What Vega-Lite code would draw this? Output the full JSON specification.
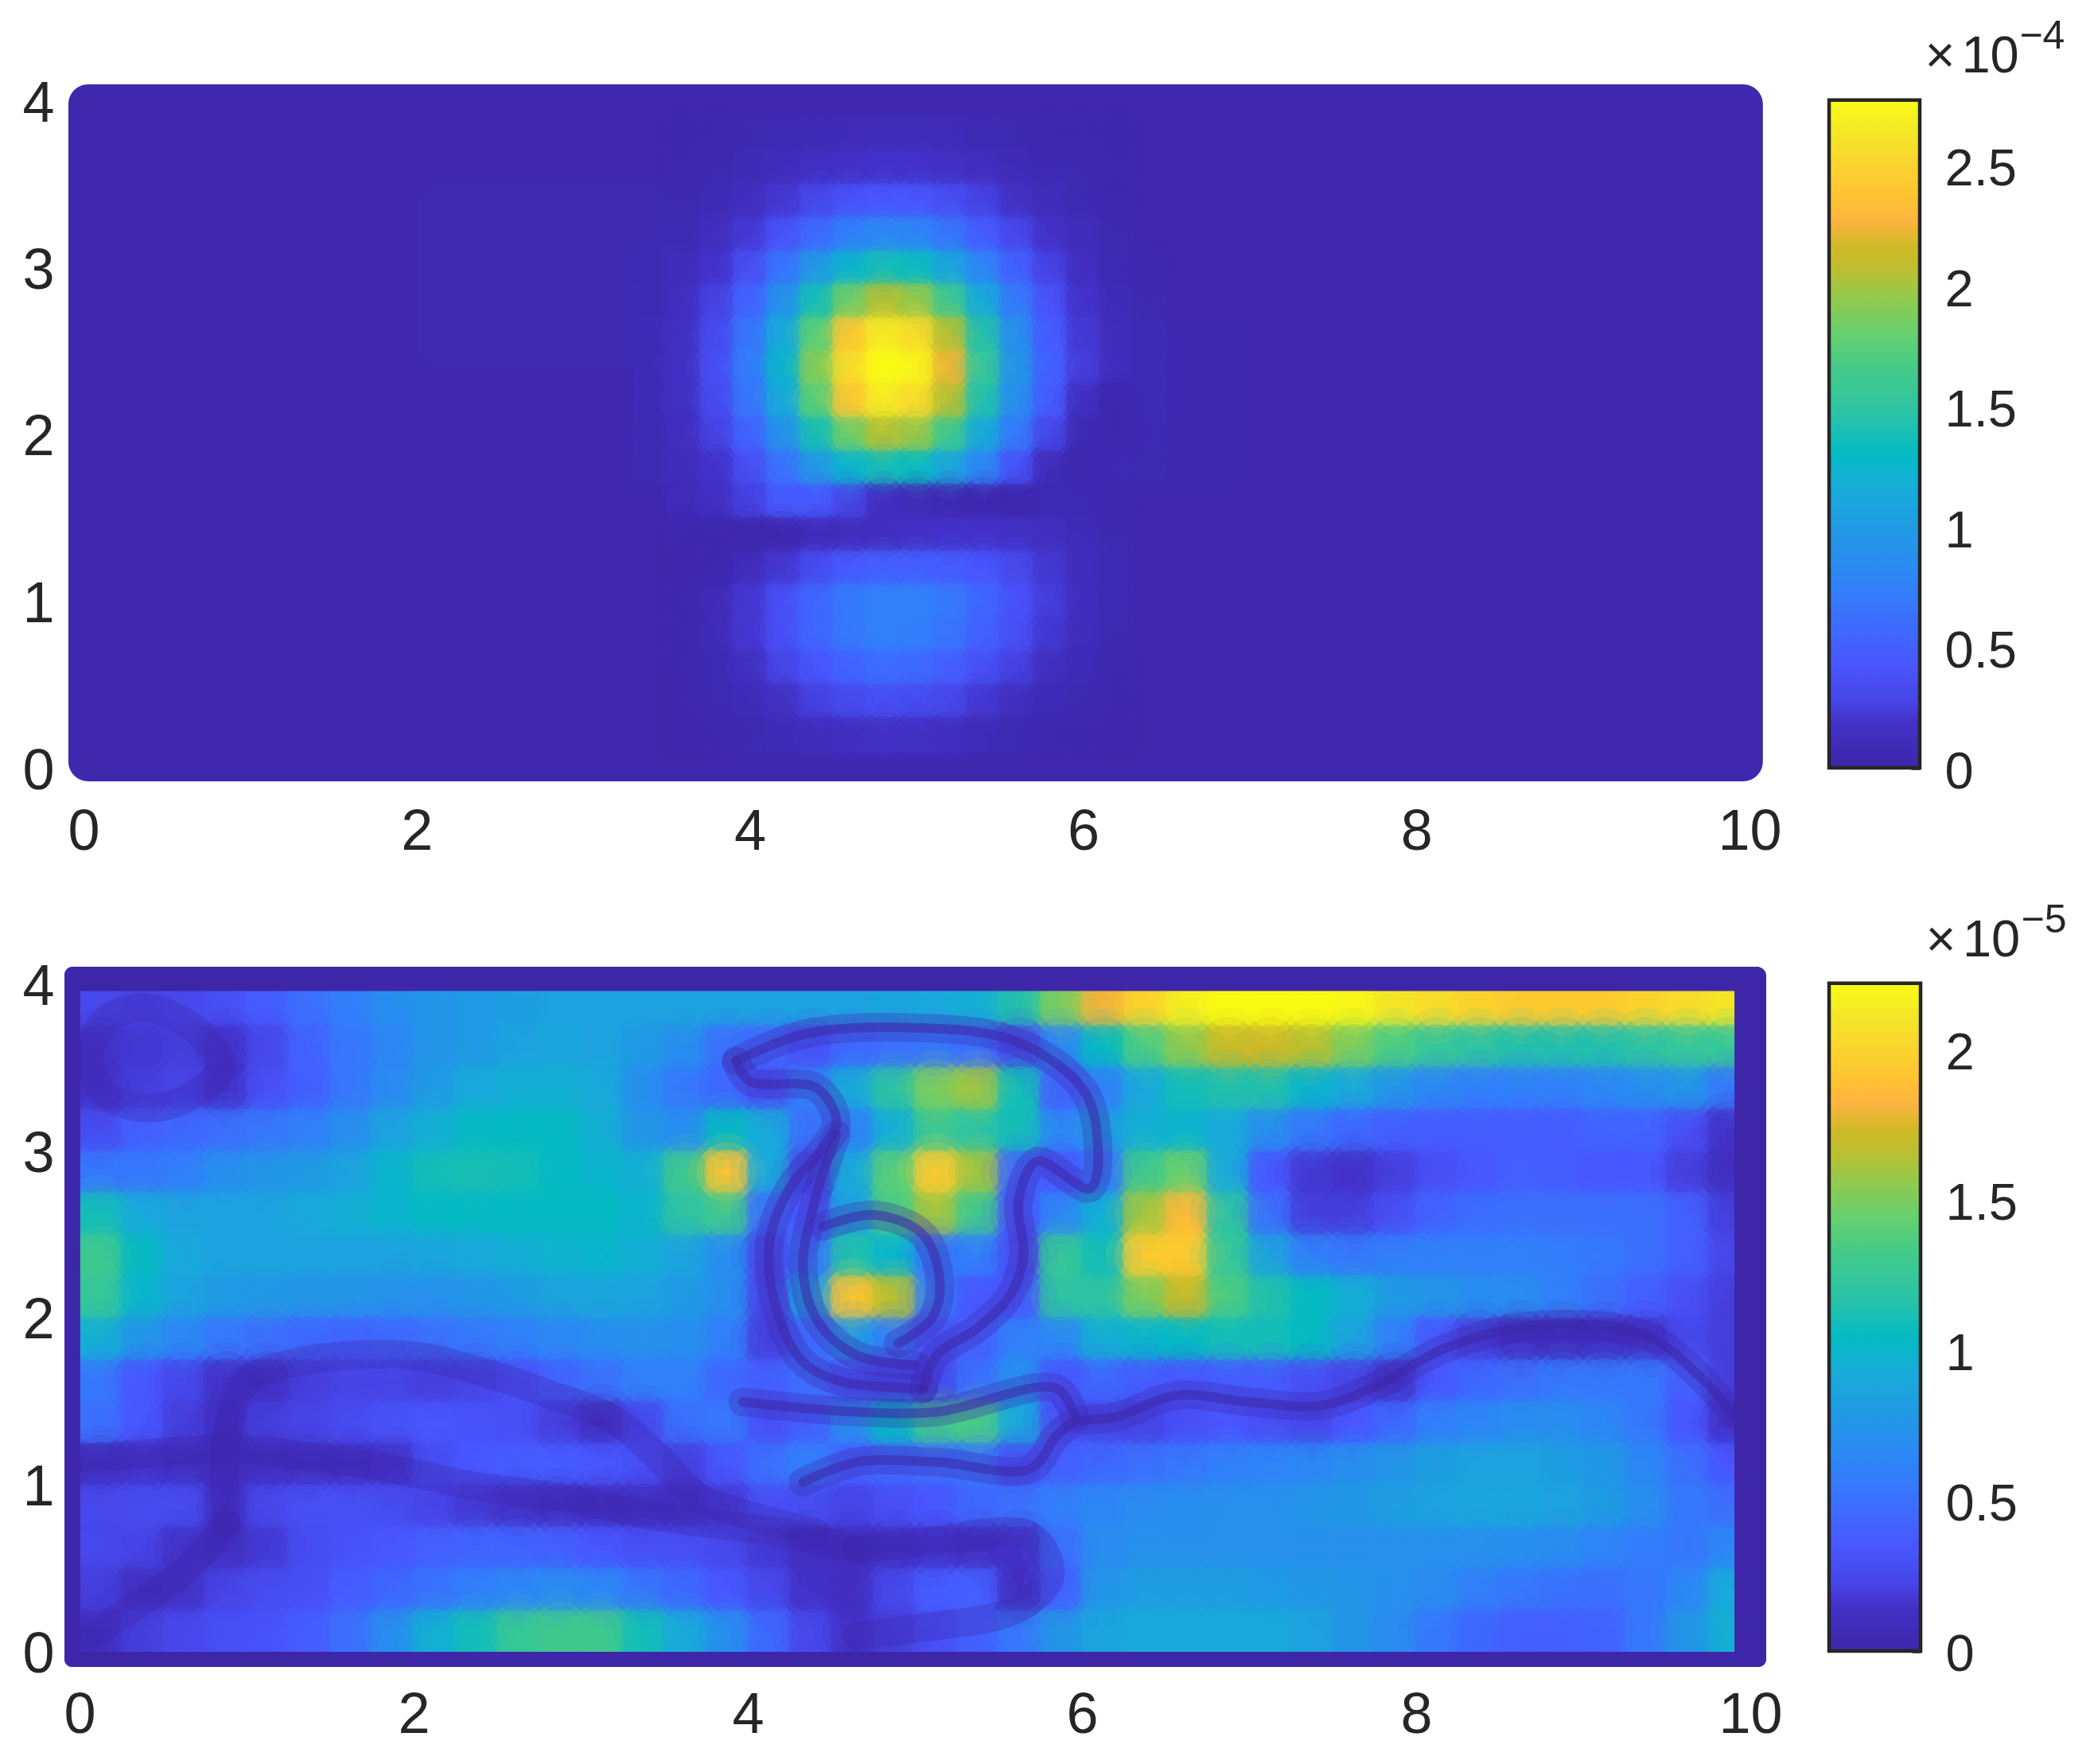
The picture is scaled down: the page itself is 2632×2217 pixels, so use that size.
{"$schema":"https://vega.github.io/schema/vega-lite/v6.json","background":"white","padding":{"left":27,"top":20,"right":0,"bottom":0},"config":{"view":{"stroke":null},"axis":{"labelFont":"Liberation Sans","labelFontSize":72,"labelColor":"#262626","grid":false,"domain":false,"ticks":false,"labelOverlap":false,"labelFlush":false,"labelBound":false}},
"datasets":{
"p1bg":[{"x":-0.091,"x2":10.08,"y":-0.081,"y2":4.1,"v":0.03},{"x":2.0,"x2":3.7,"y":2.4,"y2":3.5,"v":0.06},{"x":6.2,"x2":7.0,"y":1.7,"y2":2.7,"v":0.05}],
"p1":[
{"x":3.6,"y":3.8,"v":0.04},{"x":3.8,"y":3.8,"v":0.05},{"x":4,"y":3.8,"v":0.06},{"x":4.2,"y":3.8,"v":0.07},{"x":4.4,"y":3.8,"v":0.09},{"x":4.6,"y":3.8,"v":0.1},{"x":4.8,"y":3.8,"v":0.11},{"x":5,"y":3.8,"v":0.11},{"x":5.2,"y":3.8,"v":0.1},{"x":5.4,"y":3.8,"v":0.08},{"x":5.6,"y":3.8,"v":0.06},{"x":5.8,"y":3.8,"v":0.05},{"x":6,"y":3.8,"v":0.05},{"x":6.2,"y":3.8,"v":0.04},
{"x":3.6,"y":3.6,"v":0.05},{"x":3.8,"y":3.6,"v":0.06},{"x":4,"y":3.6,"v":0.09},{"x":4.2,"y":3.6,"v":0.12},{"x":4.4,"y":3.6,"v":0.16},{"x":4.6,"y":3.6,"v":0.19},{"x":4.8,"y":3.6,"v":0.2},{"x":5,"y":3.6,"v":0.2},{"x":5.2,"y":3.6,"v":0.17},{"x":5.4,"y":3.6,"v":0.14},{"x":5.6,"y":3.6,"v":0.1},{"x":5.8,"y":3.6,"v":0.07},{"x":6,"y":3.6,"v":0.06},{"x":6.2,"y":3.6,"v":0.05},
{"x":3.6,"y":3.4,"v":0.06},{"x":3.8,"y":3.4,"v":0.09},{"x":4,"y":3.4,"v":0.14},{"x":4.2,"y":3.4,"v":0.22},{"x":4.4,"y":3.4,"v":0.31},{"x":4.6,"y":3.4,"v":0.4},{"x":4.8,"y":3.4,"v":0.44},{"x":5,"y":3.4,"v":0.43},{"x":5.2,"y":3.4,"v":0.36},{"x":5.4,"y":3.4,"v":0.27},{"x":5.6,"y":3.4,"v":0.17},{"x":5.8,"y":3.4,"v":0.11},{"x":6,"y":3.4,"v":0.07},{"x":6.2,"y":3.4,"v":0.05},
{"x":3.6,"y":3.2,"v":0.08},{"x":3.8,"y":3.2,"v":0.14},{"x":4,"y":3.2,"v":0.23},{"x":4.2,"y":3.2,"v":0.4},{"x":4.4,"y":3.2,"v":0.58},{"x":4.6,"y":3.2,"v":0.74},{"x":4.8,"y":3.2,"v":0.82},{"x":5,"y":3.2,"v":0.8},{"x":5.2,"y":3.2,"v":0.67},{"x":5.4,"y":3.2,"v":0.48},{"x":5.6,"y":3.2,"v":0.31},{"x":5.8,"y":3.2,"v":0.18},{"x":6,"y":3.2,"v":0.11},{"x":6.2,"y":3.2,"v":0.06},
{"x":3.4,"y":3,"v":0.07},{"x":3.6,"y":3,"v":0.11},{"x":3.8,"y":3,"v":0.2},{"x":4,"y":3,"v":0.37},{"x":4.2,"y":3,"v":0.65},{"x":4.4,"y":3,"v":0.97},{"x":4.6,"y":3,"v":1.24},{"x":4.8,"y":3,"v":1.38},{"x":5,"y":3,"v":1.33},{"x":5.2,"y":3,"v":1.1},{"x":5.4,"y":3,"v":0.8},{"x":5.6,"y":3,"v":0.5},{"x":5.8,"y":3,"v":0.27},{"x":6,"y":3,"v":0.14},{"x":6.2,"y":3,"v":0.08},{"x":6.4,"y":3,"v":0.05},
{"x":3.4,"y":2.8,"v":0.08},{"x":3.6,"y":2.8,"v":0.14},{"x":3.8,"y":2.8,"v":0.27},{"x":4,"y":2.8,"v":0.54},{"x":4.2,"y":2.8,"v":0.91},{"x":4.4,"y":2.8,"v":1.38},{"x":4.6,"y":2.8,"v":1.83},{"x":4.8,"y":2.8,"v":2.05},{"x":5,"y":2.8,"v":1.97},{"x":5.2,"y":2.8,"v":1.62},{"x":5.4,"y":2.8,"v":1.14},{"x":5.6,"y":2.8,"v":0.71},{"x":5.8,"y":2.8,"v":0.4},{"x":6,"y":2.8,"v":0.2},{"x":6.2,"y":2.8,"v":0.1},{"x":6.4,"y":2.8,"v":0.06},
{"x":3.4,"y":2.6,"v":0.09},{"x":3.6,"y":2.6,"v":0.16},{"x":3.8,"y":2.6,"v":0.34},{"x":4,"y":2.6,"v":0.67},{"x":4.2,"y":2.6,"v":1.14},{"x":4.4,"y":2.6,"v":1.76},{"x":4.6,"y":2.6,"v":2.4},{"x":4.8,"y":2.6,"v":2.65},{"x":5,"y":2.6,"v":2.55},{"x":5.2,"y":2.6,"v":2.05},{"x":5.4,"y":2.6,"v":1.44},{"x":5.6,"y":2.6,"v":0.88},{"x":5.8,"y":2.6,"v":0.48},{"x":6,"y":2.6,"v":0.23},{"x":6.2,"y":2.6,"v":0.12},{"x":6.4,"y":2.6,"v":0.07},
{"x":3.4,"y":2.4,"v":0.09},{"x":3.6,"y":2.4,"v":0.17},{"x":3.8,"y":2.4,"v":0.37},{"x":4,"y":2.4,"v":0.72},{"x":4.2,"y":2.4,"v":1.24},{"x":4.4,"y":2.4,"v":1.9},{"x":4.6,"y":2.4,"v":2.55},{"x":4.8,"y":2.4,"v":2.77},{"x":5,"y":2.4,"v":2.72},{"x":5.2,"y":2.4,"v":2.23},{"x":5.4,"y":2.4,"v":1.56},{"x":5.6,"y":2.4,"v":0.95},{"x":5.8,"y":2.4,"v":0.52},{"x":6,"y":2.4,"v":0.25},{"x":6.2,"y":2.4,"v":0.13},{"x":6.4,"y":2.4,"v":0.08},
{"x":3.4,"y":2.2,"v":0.09},{"x":3.6,"y":2.2,"v":0.16},{"x":3.8,"y":2.2,"v":0.34},{"x":4,"y":2.2,"v":0.67},{"x":4.2,"y":2.2,"v":1.14},{"x":4.4,"y":2.2,"v":1.76},{"x":4.6,"y":2.2,"v":2.4},{"x":4.8,"y":2.2,"v":2.65},{"x":5,"y":2.2,"v":2.55},{"x":5.2,"y":2.2,"v":2.05},{"x":5.4,"y":2.2,"v":1.44},{"x":5.6,"y":2.2,"v":0.88},{"x":5.8,"y":2.2,"v":0.48},{"x":6,"y":2.2,"v":0.15},{"x":6.2,"y":2.2,"v":0.05},{"x":6.4,"y":2.2,"v":0.08},
{"x":3.4,"y":2,"v":0.08},{"x":3.6,"y":2,"v":0.14},{"x":3.8,"y":2,"v":0.27},{"x":4,"y":2,"v":0.54},{"x":4.2,"y":2,"v":0.91},{"x":4.4,"y":2,"v":1.38},{"x":4.6,"y":2,"v":1.83},{"x":4.8,"y":2,"v":2.05},{"x":5,"y":2,"v":1.97},{"x":5.2,"y":2,"v":1.62},{"x":5.4,"y":2,"v":1.14},{"x":5.6,"y":2,"v":0.71},{"x":5.8,"y":2,"v":0.3},{"x":6,"y":2,"v":0.08},{"x":6.2,"y":2,"v":0.05},{"x":6.4,"y":2,"v":0.07},
{"x":3.4,"y":1.8,"v":0.07},{"x":3.6,"y":1.8,"v":0.11},{"x":3.8,"y":1.8,"v":0.2},{"x":4,"y":1.8,"v":0.37},{"x":4.2,"y":1.8,"v":0.65},{"x":4.4,"y":1.8,"v":0.97},{"x":4.6,"y":1.8,"v":1.24},{"x":4.8,"y":1.8,"v":1.38},{"x":5,"y":1.8,"v":1.33},{"x":5.2,"y":1.8,"v":1.1},{"x":5.4,"y":1.8,"v":0.8},{"x":5.6,"y":1.8,"v":0.4},{"x":5.8,"y":1.8,"v":0.1},{"x":6,"y":1.8,"v":0.05},{"x":6.2,"y":1.8,"v":0.08},{"x":6.4,"y":1.8,"v":0.06},
{"x":3.6,"y":1.6,"v":0.1},{"x":3.8,"y":1.6,"v":0.16},{"x":4,"y":1.6,"v":0.26},{"x":4.2,"y":1.6,"v":0.45},{"x":4.4,"y":1.6,"v":0.45},{"x":4.6,"y":1.6,"v":0.3},{"x":4.8,"y":1.6,"v":0.15},{"x":5,"y":1.6,"v":0.1},{"x":5.2,"y":1.6,"v":0.06},{"x":5.4,"y":1.6,"v":0.05},{"x":5.6,"y":1.6,"v":0.03},{"x":5.8,"y":1.6,"v":0.08},{"x":6,"y":1.6,"v":0.08},{"x":6.2,"y":1.6,"v":0.05},
{"x":3.6,"y":1.4,"v":0.05},{"x":3.8,"y":1.4,"v":0.05},{"x":4,"y":1.4,"v":0.03},{"x":4.2,"y":1.4,"v":0.05},{"x":4.4,"y":1.4,"v":0.1},{"x":4.6,"y":1.4,"v":0.12},{"x":4.8,"y":1.4,"v":0.15},{"x":5,"y":1.4,"v":0.18},{"x":5.2,"y":1.4,"v":0.2},{"x":5.4,"y":1.4,"v":0.2},{"x":5.6,"y":1.4,"v":0.18},{"x":5.8,"y":1.4,"v":0.15},{"x":6,"y":1.4,"v":0.1},{"x":6.2,"y":1.4,"v":0.06},
{"x":3.6,"y":1.2,"v":0.03},{"x":3.8,"y":1.2,"v":0.05},{"x":4,"y":1.2,"v":0.12},{"x":4.2,"y":1.2,"v":0.22},{"x":4.4,"y":1.2,"v":0.35},{"x":4.6,"y":1.2,"v":0.45},{"x":4.8,"y":1.2,"v":0.5},{"x":5,"y":1.2,"v":0.5},{"x":5.2,"y":1.2,"v":0.48},{"x":5.4,"y":1.2,"v":0.42},{"x":5.6,"y":1.2,"v":0.32},{"x":5.8,"y":1.2,"v":0.22},{"x":6,"y":1.2,"v":0.12},{"x":6.2,"y":1.2,"v":0.07},
{"x":3.6,"y":1,"v":0.04},{"x":3.8,"y":1,"v":0.1},{"x":4,"y":1,"v":0.22},{"x":4.2,"y":1,"v":0.38},{"x":4.4,"y":1,"v":0.55},{"x":4.6,"y":1,"v":0.7},{"x":4.8,"y":1,"v":0.75},{"x":5,"y":1,"v":0.75},{"x":5.2,"y":1,"v":0.7},{"x":5.4,"y":1,"v":0.55},{"x":5.6,"y":1,"v":0.4},{"x":5.8,"y":1,"v":0.25},{"x":6,"y":1,"v":0.13},{"x":6.2,"y":1,"v":0.07},
{"x":3.6,"y":0.8,"v":0.04},{"x":3.8,"y":0.8,"v":0.1},{"x":4,"y":0.8,"v":0.22},{"x":4.2,"y":0.8,"v":0.38},{"x":4.4,"y":0.8,"v":0.55},{"x":4.6,"y":0.8,"v":0.68},{"x":4.8,"y":0.8,"v":0.75},{"x":5,"y":0.8,"v":0.74},{"x":5.2,"y":0.8,"v":0.66},{"x":5.4,"y":0.8,"v":0.52},{"x":5.6,"y":0.8,"v":0.38},{"x":5.8,"y":0.8,"v":0.22},{"x":6,"y":0.8,"v":0.12},{"x":6.2,"y":0.8,"v":0.06},
{"x":3.6,"y":0.6,"v":0.04},{"x":3.8,"y":0.6,"v":0.08},{"x":4,"y":0.6,"v":0.16},{"x":4.2,"y":0.6,"v":0.28},{"x":4.4,"y":0.6,"v":0.42},{"x":4.6,"y":0.6,"v":0.54},{"x":4.8,"y":0.6,"v":0.6},{"x":5,"y":0.6,"v":0.58},{"x":5.2,"y":0.6,"v":0.5},{"x":5.4,"y":0.6,"v":0.38},{"x":5.6,"y":0.6,"v":0.26},{"x":5.8,"y":0.6,"v":0.15},{"x":6,"y":0.6,"v":0.09},{"x":6.2,"y":0.6,"v":0.05},
{"x":3.6,"y":0.4,"v":0.03},{"x":3.8,"y":0.4,"v":0.06},{"x":4,"y":0.4,"v":0.1},{"x":4.2,"y":0.4,"v":0.17},{"x":4.4,"y":0.4,"v":0.26},{"x":4.6,"y":0.4,"v":0.33},{"x":4.8,"y":0.4,"v":0.36},{"x":5,"y":0.4,"v":0.35},{"x":5.2,"y":0.4,"v":0.3},{"x":5.4,"y":0.4,"v":0.22},{"x":5.6,"y":0.4,"v":0.15},{"x":5.8,"y":0.4,"v":0.09},{"x":6,"y":0.4,"v":0.06},{"x":6.2,"y":0.4,"v":0.04},
{"x":3.6,"y":0.2,"v":0.03},{"x":3.8,"y":0.2,"v":0.04},{"x":4,"y":0.2,"v":0.06},{"x":4.2,"y":0.2,"v":0.09},{"x":4.4,"y":0.2,"v":0.12},{"x":4.6,"y":0.2,"v":0.15},{"x":4.8,"y":0.2,"v":0.17},{"x":5,"y":0.2,"v":0.16},{"x":5.2,"y":0.2,"v":0.14},{"x":5.4,"y":0.2,"v":0.1},{"x":5.6,"y":0.2,"v":0.07},{"x":5.8,"y":0.2,"v":0.05},{"x":6,"y":0.2,"v":0.04},{"x":6.2,"y":0.2,"v":0.03}
],
"p2":[
{"x":0.125,"y":3.875,"v":0.25},{"x":0.375,"y":3.875,"v":0.22},{"x":0.625,"y":3.875,"v":0.25},{"x":0.875,"y":3.875,"v":0.3},{"x":1.125,"y":3.875,"v":0.38},{"x":1.375,"y":3.875,"v":0.5},{"x":1.625,"y":3.875,"v":0.6},{"x":1.875,"y":3.875,"v":0.7},{"x":2.125,"y":3.875,"v":0.75},{"x":2.375,"y":3.875,"v":0.8},{"x":2.625,"y":3.875,"v":0.82},{"x":2.875,"y":3.875,"v":0.85},{"x":3.125,"y":3.875,"v":0.85},{"x":3.375,"y":3.875,"v":0.85},{"x":3.625,"y":3.875,"v":0.85},{"x":3.875,"y":3.875,"v":0.85},{"x":4.125,"y":3.875,"v":0.85},{"x":4.375,"y":3.875,"v":0.85},{"x":4.625,"y":3.875,"v":0.85},{"x":4.875,"y":3.875,"v":0.88},{"x":5.125,"y":3.875,"v":0.9},{"x":5.375,"y":3.875,"v":0.95},{"x":5.625,"y":3.875,"v":1.15},{"x":5.875,"y":3.875,"v":1.5},{"x":6.125,"y":3.875,"v":1.8},{"x":6.375,"y":3.875,"v":2},{"x":6.625,"y":3.875,"v":2.15},{"x":6.875,"y":3.875,"v":2.22},{"x":7.125,"y":3.875,"v":2.22},{"x":7.375,"y":3.875,"v":2.22},{"x":7.625,"y":3.875,"v":2.2},{"x":7.875,"y":3.875,"v":2.1},{"x":8.125,"y":3.875,"v":2.05},{"x":8.375,"y":3.875,"v":2},{"x":8.625,"y":3.875,"v":1.95},{"x":8.875,"y":3.875,"v":1.95},{"x":9.125,"y":3.875,"v":1.95},{"x":9.375,"y":3.875,"v":2},{"x":9.625,"y":3.875,"v":2.05},{"x":9.875,"y":3.875,"v":2.1},
{"x":0.125,"y":3.625,"v":0.15},{"x":0.375,"y":3.625,"v":0.18},{"x":0.625,"y":3.625,"v":0.2},{"x":0.875,"y":3.625,"v":0.15},{"x":1.125,"y":3.625,"v":0.25},{"x":1.375,"y":3.625,"v":0.42},{"x":1.625,"y":3.625,"v":0.55},{"x":1.875,"y":3.625,"v":0.65},{"x":2.125,"y":3.625,"v":0.75},{"x":2.375,"y":3.625,"v":0.8},{"x":2.625,"y":3.625,"v":0.85},{"x":2.875,"y":3.625,"v":0.88},{"x":3.125,"y":3.625,"v":0.85},{"x":3.375,"y":3.625,"v":0.8},{"x":3.625,"y":3.625,"v":0.7},{"x":3.875,"y":3.625,"v":0.5},{"x":4.125,"y":3.625,"v":0.45},{"x":4.375,"y":3.625,"v":0.3},{"x":4.625,"y":3.625,"v":0.45},{"x":4.875,"y":3.625,"v":0.5},{"x":5.125,"y":3.625,"v":0.55},{"x":5.375,"y":3.625,"v":0.5},{"x":5.625,"y":3.625,"v":0.25},{"x":5.875,"y":3.625,"v":0.65},{"x":6.125,"y":3.625,"v":1.05},{"x":6.375,"y":3.625,"v":1.35},{"x":6.625,"y":3.625,"v":1.55},{"x":6.875,"y":3.625,"v":1.7},{"x":7.125,"y":3.625,"v":1.72},{"x":7.375,"y":3.625,"v":1.65},{"x":7.625,"y":3.625,"v":1.5},{"x":7.875,"y":3.625,"v":1.35},{"x":8.125,"y":3.625,"v":1.25},{"x":8.375,"y":3.625,"v":1.2},{"x":8.625,"y":3.625,"v":1.15},{"x":8.875,"y":3.625,"v":1.15},{"x":9.125,"y":3.625,"v":1.15},{"x":9.375,"y":3.625,"v":1.2},{"x":9.625,"y":3.625,"v":1.25},{"x":9.875,"y":3.625,"v":1.25},
{"x":0.125,"y":3.375,"v":0.15},{"x":0.375,"y":3.375,"v":0.2},{"x":0.625,"y":3.375,"v":0.22},{"x":0.875,"y":3.375,"v":0.15},{"x":1.125,"y":3.375,"v":0.3},{"x":1.375,"y":3.375,"v":0.4},{"x":1.625,"y":3.375,"v":0.55},{"x":1.875,"y":3.375,"v":0.68},{"x":2.125,"y":3.375,"v":0.8},{"x":2.375,"y":3.375,"v":0.9},{"x":2.625,"y":3.375,"v":0.95},{"x":2.875,"y":3.375,"v":0.95},{"x":3.125,"y":3.375,"v":0.9},{"x":3.375,"y":3.375,"v":0.7},{"x":3.625,"y":3.375,"v":0.55},{"x":3.875,"y":3.375,"v":0.45},{"x":4.125,"y":3.375,"v":0.3},{"x":4.375,"y":3.375,"v":0.6},{"x":4.625,"y":3.375,"v":0.9},{"x":4.875,"y":3.375,"v":1.2},{"x":5.125,"y":3.375,"v":1.5},{"x":5.375,"y":3.375,"v":1.6},{"x":5.625,"y":3.375,"v":1.1},{"x":5.875,"y":3.375,"v":0.4},{"x":6.125,"y":3.375,"v":0.6},{"x":6.375,"y":3.375,"v":0.9},{"x":6.625,"y":3.375,"v":1.1},{"x":6.875,"y":3.375,"v":1.15},{"x":7.125,"y":3.375,"v":1.15},{"x":7.375,"y":3.375,"v":1},{"x":7.625,"y":3.375,"v":0.9},{"x":7.875,"y":3.375,"v":0.75},{"x":8.125,"y":3.375,"v":0.65},{"x":8.375,"y":3.375,"v":0.6},{"x":8.625,"y":3.375,"v":0.6},{"x":8.875,"y":3.375,"v":0.6},{"x":9.125,"y":3.375,"v":0.65},{"x":9.375,"y":3.375,"v":0.7},{"x":9.625,"y":3.375,"v":0.75},{"x":9.875,"y":3.375,"v":0.55},
{"x":0.125,"y":3.125,"v":0.28},{"x":0.375,"y":3.125,"v":0.4},{"x":0.625,"y":3.125,"v":0.45},{"x":0.875,"y":3.125,"v":0.5},{"x":1.125,"y":3.125,"v":0.55},{"x":1.375,"y":3.125,"v":0.6},{"x":1.625,"y":3.125,"v":0.7},{"x":1.875,"y":3.125,"v":0.85},{"x":2.125,"y":3.125,"v":0.95},{"x":2.375,"y":3.125,"v":1.05},{"x":2.625,"y":3.125,"v":1.05},{"x":2.875,"y":3.125,"v":1.05},{"x":3.125,"y":3.125,"v":0.95},{"x":3.375,"y":3.125,"v":0.75},{"x":3.625,"y":3.125,"v":0.7},{"x":3.875,"y":3.125,"v":1.05},{"x":4.125,"y":3.125,"v":0.9},{"x":4.375,"y":3.125,"v":0.5},{"x":4.625,"y":3.125,"v":0.6},{"x":4.875,"y":3.125,"v":0.95},{"x":5.125,"y":3.125,"v":1.3},{"x":5.375,"y":3.125,"v":1.2},{"x":5.625,"y":3.125,"v":1.1},{"x":5.875,"y":3.125,"v":0.65},{"x":6.125,"y":3.125,"v":0.8},{"x":6.375,"y":3.125,"v":0.95},{"x":6.625,"y":3.125,"v":1},{"x":6.875,"y":3.125,"v":0.9},{"x":7.125,"y":3.125,"v":0.7},{"x":7.375,"y":3.125,"v":0.55},{"x":7.625,"y":3.125,"v":0.45},{"x":7.875,"y":3.125,"v":0.4},{"x":8.125,"y":3.125,"v":0.38},{"x":8.375,"y":3.125,"v":0.38},{"x":8.625,"y":3.125,"v":0.38},{"x":8.875,"y":3.125,"v":0.38},{"x":9.125,"y":3.125,"v":0.42},{"x":9.375,"y":3.125,"v":0.42},{"x":9.625,"y":3.125,"v":0.3},{"x":9.875,"y":3.125,"v":0.15},
{"x":0.125,"y":2.875,"v":0.55},{"x":0.375,"y":2.875,"v":0.55},{"x":0.625,"y":2.875,"v":0.6},{"x":0.875,"y":2.875,"v":0.7},{"x":1.125,"y":2.875,"v":0.75},{"x":1.375,"y":2.875,"v":0.8},{"x":1.625,"y":2.875,"v":0.85},{"x":1.875,"y":2.875,"v":1},{"x":2.125,"y":2.875,"v":1.1},{"x":2.375,"y":2.875,"v":1.12},{"x":2.625,"y":2.875,"v":1.1},{"x":2.875,"y":2.875,"v":1.05},{"x":3.125,"y":2.875,"v":1},{"x":3.375,"y":2.875,"v":0.95},{"x":3.625,"y":2.875,"v":1.3},{"x":3.875,"y":2.875,"v":1.9},{"x":4.125,"y":2.875,"v":0.9},{"x":4.375,"y":2.875,"v":0.25},{"x":4.625,"y":2.875,"v":0.9},{"x":4.875,"y":2.875,"v":1.4},{"x":5.125,"y":2.875,"v":1.95},{"x":5.375,"y":2.875,"v":1.6},{"x":5.625,"y":2.875,"v":0.45},{"x":5.875,"y":2.875,"v":0.35},{"x":6.125,"y":2.875,"v":0.55},{"x":6.375,"y":2.875,"v":1.3},{"x":6.625,"y":2.875,"v":1.45},{"x":6.875,"y":2.875,"v":0.9},{"x":7.125,"y":2.875,"v":0.35},{"x":7.375,"y":2.875,"v":0.18},{"x":7.625,"y":2.875,"v":0.15},{"x":7.875,"y":2.875,"v":0.2},{"x":8.125,"y":2.875,"v":0.3},{"x":8.375,"y":2.875,"v":0.35},{"x":8.625,"y":2.875,"v":0.4},{"x":8.875,"y":2.875,"v":0.38},{"x":9.125,"y":2.875,"v":0.35},{"x":9.375,"y":2.875,"v":0.35},{"x":9.625,"y":2.875,"v":0.2},{"x":9.875,"y":2.875,"v":0.12},
{"x":0.125,"y":2.625,"v":1.1},{"x":0.375,"y":2.625,"v":0.9},{"x":0.625,"y":2.625,"v":0.85},{"x":0.875,"y":2.625,"v":0.85},{"x":1.125,"y":2.625,"v":0.85},{"x":1.375,"y":2.625,"v":0.9},{"x":1.625,"y":2.625,"v":0.95},{"x":1.875,"y":2.625,"v":1},{"x":2.125,"y":2.625,"v":1.05},{"x":2.375,"y":2.625,"v":1.05},{"x":2.625,"y":2.625,"v":1.05},{"x":2.875,"y":2.625,"v":1.05},{"x":3.125,"y":2.625,"v":1.05},{"x":3.375,"y":2.625,"v":1},{"x":3.625,"y":2.625,"v":1.2},{"x":3.875,"y":2.625,"v":1.3},{"x":4.125,"y":2.625,"v":0.5},{"x":4.375,"y":2.625,"v":0.35},{"x":4.625,"y":2.625,"v":0.85},{"x":4.875,"y":2.625,"v":1.35},{"x":5.125,"y":2.625,"v":1.6},{"x":5.375,"y":2.625,"v":1.3},{"x":5.625,"y":2.625,"v":0.35},{"x":5.875,"y":2.625,"v":0.65},{"x":6.125,"y":2.625,"v":0.95},{"x":6.375,"y":2.625,"v":1.6},{"x":6.625,"y":2.625,"v":1.85},{"x":6.875,"y":2.625,"v":1.2},{"x":7.125,"y":2.625,"v":0.5},{"x":7.375,"y":2.625,"v":0.2},{"x":7.625,"y":2.625,"v":0.2},{"x":7.875,"y":2.625,"v":0.3},{"x":8.125,"y":2.625,"v":0.42},{"x":8.375,"y":2.625,"v":0.48},{"x":8.625,"y":2.625,"v":0.5},{"x":8.875,"y":2.625,"v":0.5},{"x":9.125,"y":2.625,"v":0.5},{"x":9.375,"y":2.625,"v":0.5},{"x":9.625,"y":2.625,"v":0.4},{"x":9.875,"y":2.625,"v":0.2},
{"x":0.125,"y":2.375,"v":1.3},{"x":0.375,"y":2.375,"v":1.05},{"x":0.625,"y":2.375,"v":0.9},{"x":0.875,"y":2.375,"v":0.85},{"x":1.125,"y":2.375,"v":0.85},{"x":1.375,"y":2.375,"v":0.85},{"x":1.625,"y":2.375,"v":0.85},{"x":1.875,"y":2.375,"v":0.85},{"x":2.125,"y":2.375,"v":0.88},{"x":2.375,"y":2.375,"v":0.9},{"x":2.625,"y":2.375,"v":0.95},{"x":2.875,"y":2.375,"v":0.98},{"x":3.125,"y":2.375,"v":1},{"x":3.375,"y":2.375,"v":0.95},{"x":3.625,"y":2.375,"v":0.85},{"x":3.875,"y":2.375,"v":0.7},{"x":4.125,"y":2.375,"v":0.25},{"x":4.375,"y":2.375,"v":0.55},{"x":4.625,"y":2.375,"v":1.15},{"x":4.875,"y":2.375,"v":1},{"x":5.125,"y":2.375,"v":0.55},{"x":5.375,"y":2.375,"v":0.6},{"x":5.625,"y":2.375,"v":0.3},{"x":5.875,"y":2.375,"v":1.25},{"x":6.125,"y":2.375,"v":1.1},{"x":6.375,"y":2.375,"v":1.95},{"x":6.625,"y":2.375,"v":1.95},{"x":6.875,"y":2.375,"v":1.25},{"x":7.125,"y":2.375,"v":0.85},{"x":7.375,"y":2.375,"v":0.6},{"x":7.625,"y":2.375,"v":0.55},{"x":7.875,"y":2.375,"v":0.58},{"x":8.125,"y":2.375,"v":0.6},{"x":8.375,"y":2.375,"v":0.6},{"x":8.625,"y":2.375,"v":0.6},{"x":8.875,"y":2.375,"v":0.58},{"x":9.125,"y":2.375,"v":0.55},{"x":9.375,"y":2.375,"v":0.5},{"x":9.625,"y":2.375,"v":0.4},{"x":9.875,"y":2.375,"v":0.25},
{"x":0.125,"y":2.125,"v":1.25},{"x":0.375,"y":2.125,"v":1},{"x":0.625,"y":2.125,"v":0.85},{"x":0.875,"y":2.125,"v":0.8},{"x":1.125,"y":2.125,"v":0.78},{"x":1.375,"y":2.125,"v":0.75},{"x":1.625,"y":2.125,"v":0.75},{"x":1.875,"y":2.125,"v":0.72},{"x":2.125,"y":2.125,"v":0.72},{"x":2.375,"y":2.125,"v":0.75},{"x":2.625,"y":2.125,"v":0.8},{"x":2.875,"y":2.125,"v":0.85},{"x":3.125,"y":2.125,"v":0.88},{"x":3.375,"y":2.125,"v":0.85},{"x":3.625,"y":2.125,"v":0.8},{"x":3.875,"y":2.125,"v":0.7},{"x":4.125,"y":2.125,"v":0.25},{"x":4.375,"y":2.125,"v":0.85},{"x":4.625,"y":2.125,"v":1.9},{"x":4.875,"y":2.125,"v":1.65},{"x":5.125,"y":2.125,"v":0.6},{"x":5.375,"y":2.125,"v":0.35},{"x":5.625,"y":2.125,"v":0.35},{"x":5.875,"y":2.125,"v":1.2},{"x":6.125,"y":2.125,"v":1.2},{"x":6.375,"y":2.125,"v":1.5},{"x":6.625,"y":2.125,"v":1.7},{"x":6.875,"y":2.125,"v":1.35},{"x":7.125,"y":2.125,"v":1.15},{"x":7.375,"y":2.125,"v":1.05},{"x":7.625,"y":2.125,"v":0.95},{"x":7.875,"y":2.125,"v":0.8},{"x":8.125,"y":2.125,"v":0.75},{"x":8.375,"y":2.125,"v":0.7},{"x":8.625,"y":2.125,"v":0.68},{"x":8.875,"y":2.125,"v":0.6},{"x":9.125,"y":2.125,"v":0.5},{"x":9.375,"y":2.125,"v":0.4},{"x":9.625,"y":2.125,"v":0.3},{"x":9.875,"y":2.125,"v":0.2},
{"x":0.125,"y":1.875,"v":0.95},{"x":0.375,"y":1.875,"v":0.75},{"x":0.625,"y":1.875,"v":0.65},{"x":0.875,"y":1.875,"v":0.55},{"x":1.125,"y":1.875,"v":0.5},{"x":1.375,"y":1.875,"v":0.45},{"x":1.625,"y":1.875,"v":0.42},{"x":1.875,"y":1.875,"v":0.45},{"x":2.125,"y":1.875,"v":0.5},{"x":2.375,"y":1.875,"v":0.55},{"x":2.625,"y":1.875,"v":0.6},{"x":2.875,"y":1.875,"v":0.65},{"x":3.125,"y":1.875,"v":0.7},{"x":3.375,"y":1.875,"v":0.72},{"x":3.625,"y":1.875,"v":0.7},{"x":3.875,"y":1.875,"v":0.6},{"x":4.125,"y":1.875,"v":0.2},{"x":4.375,"y":1.875,"v":0.45},{"x":4.625,"y":1.875,"v":0.8},{"x":4.875,"y":1.875,"v":0.6},{"x":5.125,"y":1.875,"v":0.3},{"x":5.375,"y":1.875,"v":0.4},{"x":5.625,"y":1.875,"v":0.6},{"x":5.875,"y":1.875,"v":0.65},{"x":6.125,"y":1.875,"v":0.95},{"x":6.375,"y":1.875,"v":1},{"x":6.625,"y":1.875,"v":1.05},{"x":6.875,"y":1.875,"v":1.1},{"x":7.125,"y":1.875,"v":1.1},{"x":7.375,"y":1.875,"v":1.05},{"x":7.625,"y":1.875,"v":0.85},{"x":7.875,"y":1.875,"v":0.6},{"x":8.125,"y":1.875,"v":0.35},{"x":8.375,"y":1.875,"v":0.2},{"x":8.625,"y":1.875,"v":0.12},{"x":8.875,"y":1.875,"v":0.1},{"x":9.125,"y":1.875,"v":0.12},{"x":9.375,"y":1.875,"v":0.15},{"x":9.625,"y":1.875,"v":0.25},{"x":9.875,"y":1.875,"v":0.2},
{"x":0.125,"y":1.625,"v":0.55},{"x":0.375,"y":1.625,"v":0.35},{"x":0.625,"y":1.625,"v":0.25},{"x":0.875,"y":1.625,"v":0.15},{"x":1.125,"y":1.625,"v":0.12},{"x":1.375,"y":1.625,"v":0.2},{"x":1.625,"y":1.625,"v":0.22},{"x":1.875,"y":1.625,"v":0.22},{"x":2.125,"y":1.625,"v":0.2},{"x":2.375,"y":1.625,"v":0.22},{"x":2.625,"y":1.625,"v":0.3},{"x":2.875,"y":1.625,"v":0.42},{"x":3.125,"y":1.625,"v":0.5},{"x":3.375,"y":1.625,"v":0.6},{"x":3.625,"y":1.625,"v":0.6},{"x":3.875,"y":1.625,"v":0.45},{"x":4.125,"y":1.625,"v":0.4},{"x":4.375,"y":1.625,"v":0.5},{"x":4.625,"y":1.625,"v":0.3},{"x":4.875,"y":1.625,"v":0.25},{"x":5.125,"y":1.625,"v":0.25},{"x":5.375,"y":1.625,"v":0.5},{"x":5.625,"y":1.625,"v":0.7},{"x":5.875,"y":1.625,"v":0.35},{"x":6.125,"y":1.625,"v":0.45},{"x":6.375,"y":1.625,"v":0.38},{"x":6.625,"y":1.625,"v":0.35},{"x":6.875,"y":1.625,"v":0.38},{"x":7.125,"y":1.625,"v":0.38},{"x":7.375,"y":1.625,"v":0.3},{"x":7.625,"y":1.625,"v":0.22},{"x":7.875,"y":1.625,"v":0.15},{"x":8.125,"y":1.625,"v":0.35},{"x":8.375,"y":1.625,"v":0.45},{"x":8.625,"y":1.625,"v":0.5},{"x":8.875,"y":1.625,"v":0.55},{"x":9.125,"y":1.625,"v":0.55},{"x":9.375,"y":1.625,"v":0.55},{"x":9.625,"y":1.625,"v":0.4},{"x":9.875,"y":1.625,"v":0.2},
{"x":0.125,"y":1.375,"v":0.5},{"x":0.375,"y":1.375,"v":0.35},{"x":0.625,"y":1.375,"v":0.2},{"x":0.875,"y":1.375,"v":0.1},{"x":1.125,"y":1.375,"v":0.2},{"x":1.375,"y":1.375,"v":0.22},{"x":1.625,"y":1.375,"v":0.28},{"x":1.875,"y":1.375,"v":0.32},{"x":2.125,"y":1.375,"v":0.35},{"x":2.375,"y":1.375,"v":0.33},{"x":2.625,"y":1.375,"v":0.3},{"x":2.875,"y":1.375,"v":0.2},{"x":3.125,"y":1.375,"v":0.12},{"x":3.375,"y":1.375,"v":0.25},{"x":3.625,"y":1.375,"v":0.5},{"x":3.875,"y":1.375,"v":0.55},{"x":4.125,"y":1.375,"v":0.3},{"x":4.375,"y":1.375,"v":0.4},{"x":4.625,"y":1.375,"v":0.7},{"x":4.875,"y":1.375,"v":1.05},{"x":5.125,"y":1.375,"v":1.3},{"x":5.375,"y":1.375,"v":1.35},{"x":5.625,"y":1.375,"v":0.9},{"x":5.875,"y":1.375,"v":0.3},{"x":6.125,"y":1.375,"v":0.25},{"x":6.375,"y":1.375,"v":0.22},{"x":6.625,"y":1.375,"v":0.3},{"x":6.875,"y":1.375,"v":0.35},{"x":7.125,"y":1.375,"v":0.3},{"x":7.375,"y":1.375,"v":0.25},{"x":7.625,"y":1.375,"v":0.35},{"x":7.875,"y":1.375,"v":0.45},{"x":8.125,"y":1.375,"v":0.6},{"x":8.375,"y":1.375,"v":0.65},{"x":8.625,"y":1.375,"v":0.7},{"x":8.875,"y":1.375,"v":0.7},{"x":9.125,"y":1.375,"v":0.65},{"x":9.375,"y":1.375,"v":0.55},{"x":9.625,"y":1.375,"v":0.35},{"x":9.875,"y":1.375,"v":0.15},
{"x":0.125,"y":1.125,"v":0.12},{"x":0.375,"y":1.125,"v":0.15},{"x":0.625,"y":1.125,"v":0.12},{"x":0.875,"y":1.125,"v":0.1},{"x":1.125,"y":1.125,"v":0.12},{"x":1.375,"y":1.125,"v":0.12},{"x":1.625,"y":1.125,"v":0.12},{"x":1.875,"y":1.125,"v":0.15},{"x":2.125,"y":1.125,"v":0.28},{"x":2.375,"y":1.125,"v":0.35},{"x":2.625,"y":1.125,"v":0.38},{"x":2.875,"y":1.125,"v":0.38},{"x":3.125,"y":1.125,"v":0.35},{"x":3.375,"y":1.125,"v":0.3},{"x":3.625,"y":1.125,"v":0.2},{"x":3.875,"y":1.125,"v":0.35},{"x":4.125,"y":1.125,"v":0.5},{"x":4.375,"y":1.125,"v":0.6},{"x":4.625,"y":1.125,"v":0.4},{"x":4.875,"y":1.125,"v":0.45},{"x":5.125,"y":1.125,"v":0.5},{"x":5.375,"y":1.125,"v":0.55},{"x":5.625,"y":1.125,"v":0.3},{"x":5.875,"y":1.125,"v":0.4},{"x":6.125,"y":1.125,"v":0.45},{"x":6.375,"y":1.125,"v":0.5},{"x":6.625,"y":1.125,"v":0.55},{"x":6.875,"y":1.125,"v":0.6},{"x":7.125,"y":1.125,"v":0.62},{"x":7.375,"y":1.125,"v":0.65},{"x":7.625,"y":1.125,"v":0.7},{"x":7.875,"y":1.125,"v":0.75},{"x":8.125,"y":1.125,"v":0.82},{"x":8.375,"y":1.125,"v":0.85},{"x":8.625,"y":1.125,"v":0.85},{"x":8.875,"y":1.125,"v":0.82},{"x":9.125,"y":1.125,"v":0.78},{"x":9.375,"y":1.125,"v":0.65},{"x":9.625,"y":1.125,"v":0.5},{"x":9.875,"y":1.125,"v":0.35},
{"x":0.125,"y":0.875,"v":0.25},{"x":0.375,"y":0.875,"v":0.28},{"x":0.625,"y":0.875,"v":0.28},{"x":0.875,"y":0.875,"v":0.12},{"x":1.125,"y":0.875,"v":0.25},{"x":1.375,"y":0.875,"v":0.3},{"x":1.625,"y":0.875,"v":0.3},{"x":1.875,"y":0.875,"v":0.28},{"x":2.125,"y":0.875,"v":0.22},{"x":2.375,"y":0.875,"v":0.18},{"x":2.625,"y":0.875,"v":0.15},{"x":2.875,"y":0.875,"v":0.12},{"x":3.125,"y":0.875,"v":0.1},{"x":3.375,"y":0.875,"v":0.12},{"x":3.625,"y":0.875,"v":0.12},{"x":3.875,"y":0.875,"v":0.18},{"x":4.125,"y":0.875,"v":0.3},{"x":4.375,"y":0.875,"v":0.28},{"x":4.625,"y":0.875,"v":0.22},{"x":4.875,"y":0.875,"v":0.3},{"x":5.125,"y":0.875,"v":0.35},{"x":5.375,"y":0.875,"v":0.45},{"x":5.625,"y":0.875,"v":0.5},{"x":5.875,"y":0.875,"v":0.6},{"x":6.125,"y":0.875,"v":0.65},{"x":6.375,"y":0.875,"v":0.68},{"x":6.625,"y":0.875,"v":0.7},{"x":6.875,"y":0.875,"v":0.72},{"x":7.125,"y":0.875,"v":0.72},{"x":7.375,"y":0.875,"v":0.75},{"x":7.625,"y":0.875,"v":0.78},{"x":7.875,"y":0.875,"v":0.82},{"x":8.125,"y":0.875,"v":0.85},{"x":8.375,"y":0.875,"v":0.88},{"x":8.625,"y":0.875,"v":0.88},{"x":8.875,"y":0.875,"v":0.85},{"x":9.125,"y":0.875,"v":0.8},{"x":9.375,"y":0.875,"v":0.7},{"x":9.625,"y":0.875,"v":0.55},{"x":9.875,"y":0.875,"v":0.5},
{"x":0.125,"y":0.625,"v":0.25},{"x":0.375,"y":0.625,"v":0.22},{"x":0.625,"y":0.625,"v":0.15},{"x":0.875,"y":0.625,"v":0.12},{"x":1.125,"y":0.625,"v":0.18},{"x":1.375,"y":0.625,"v":0.28},{"x":1.625,"y":0.625,"v":0.32},{"x":1.875,"y":0.625,"v":0.35},{"x":2.125,"y":0.625,"v":0.4},{"x":2.375,"y":0.625,"v":0.42},{"x":2.625,"y":0.625,"v":0.42},{"x":2.875,"y":0.625,"v":0.4},{"x":3.125,"y":0.625,"v":0.35},{"x":3.375,"y":0.625,"v":0.3},{"x":3.625,"y":0.625,"v":0.3},{"x":3.875,"y":0.625,"v":0.25},{"x":4.125,"y":0.625,"v":0.18},{"x":4.375,"y":0.625,"v":0.12},{"x":4.625,"y":0.625,"v":0.1},{"x":4.875,"y":0.625,"v":0.12},{"x":5.125,"y":0.625,"v":0.15},{"x":5.375,"y":0.625,"v":0.12},{"x":5.625,"y":0.625,"v":0.15},{"x":5.875,"y":0.625,"v":0.5},{"x":6.125,"y":0.625,"v":0.68},{"x":6.375,"y":0.625,"v":0.72},{"x":6.625,"y":0.625,"v":0.72},{"x":6.875,"y":0.625,"v":0.72},{"x":7.125,"y":0.625,"v":0.72},{"x":7.375,"y":0.625,"v":0.72},{"x":7.625,"y":0.625,"v":0.72},{"x":7.875,"y":0.625,"v":0.72},{"x":8.125,"y":0.625,"v":0.72},{"x":8.375,"y":0.625,"v":0.72},{"x":8.625,"y":0.625,"v":0.7},{"x":8.875,"y":0.625,"v":0.68},{"x":9.125,"y":0.625,"v":0.62},{"x":9.375,"y":0.625,"v":0.58},{"x":9.625,"y":0.625,"v":0.55},{"x":9.875,"y":0.625,"v":0.65},
{"x":0.125,"y":0.375,"v":0.2},{"x":0.375,"y":0.375,"v":0.12},{"x":0.625,"y":0.375,"v":0.14},{"x":0.875,"y":0.375,"v":0.22},{"x":1.125,"y":0.375,"v":0.28},{"x":1.375,"y":0.375,"v":0.3},{"x":1.625,"y":0.375,"v":0.38},{"x":1.875,"y":0.375,"v":0.45},{"x":2.125,"y":0.375,"v":0.52},{"x":2.375,"y":0.375,"v":0.6},{"x":2.625,"y":0.375,"v":0.65},{"x":2.875,"y":0.375,"v":0.68},{"x":3.125,"y":0.375,"v":0.65},{"x":3.375,"y":0.375,"v":0.55},{"x":3.625,"y":0.375,"v":0.45},{"x":3.875,"y":0.375,"v":0.35},{"x":4.125,"y":0.375,"v":0.25},{"x":4.375,"y":0.375,"v":0.15},{"x":4.625,"y":0.375,"v":0.12},{"x":4.875,"y":0.375,"v":0.25},{"x":5.125,"y":0.375,"v":0.38},{"x":5.375,"y":0.375,"v":0.4},{"x":5.625,"y":0.375,"v":0.12},{"x":5.875,"y":0.375,"v":0.4},{"x":6.125,"y":0.375,"v":0.75},{"x":6.375,"y":0.375,"v":0.82},{"x":6.625,"y":0.375,"v":0.82},{"x":6.875,"y":0.375,"v":0.82},{"x":7.125,"y":0.375,"v":0.8},{"x":7.375,"y":0.375,"v":0.78},{"x":7.625,"y":0.375,"v":0.75},{"x":7.875,"y":0.375,"v":0.72},{"x":8.125,"y":0.375,"v":0.68},{"x":8.375,"y":0.375,"v":0.6},{"x":8.625,"y":0.375,"v":0.55},{"x":8.875,"y":0.375,"v":0.52},{"x":9.125,"y":0.375,"v":0.5},{"x":9.375,"y":0.375,"v":0.55},{"x":9.625,"y":0.375,"v":0.65},{"x":9.875,"y":0.375,"v":0.9},
{"x":0.125,"y":0.125,"v":0.12},{"x":0.375,"y":0.125,"v":0.2},{"x":0.625,"y":0.125,"v":0.25},{"x":0.875,"y":0.125,"v":0.3},{"x":1.125,"y":0.125,"v":0.32},{"x":1.375,"y":0.125,"v":0.38},{"x":1.625,"y":0.125,"v":0.5},{"x":1.875,"y":0.125,"v":0.7},{"x":2.125,"y":0.125,"v":0.95},{"x":2.375,"y":0.125,"v":1.1},{"x":2.625,"y":0.125,"v":1.25},{"x":2.875,"y":0.125,"v":1.3},{"x":3.125,"y":0.125,"v":1.3},{"x":3.375,"y":0.125,"v":1.1},{"x":3.625,"y":0.125,"v":0.9},{"x":3.875,"y":0.125,"v":0.7},{"x":4.125,"y":0.125,"v":0.45},{"x":4.375,"y":0.125,"v":0.25},{"x":4.625,"y":0.125,"v":0.15},{"x":4.875,"y":0.125,"v":0.2},{"x":5.125,"y":0.125,"v":0.3},{"x":5.375,"y":0.125,"v":0.4},{"x":5.625,"y":0.125,"v":0.55},{"x":5.875,"y":0.125,"v":0.75},{"x":6.125,"y":0.125,"v":0.88},{"x":6.375,"y":0.125,"v":0.9},{"x":6.625,"y":0.125,"v":0.9},{"x":6.875,"y":0.125,"v":0.9},{"x":7.125,"y":0.125,"v":0.9},{"x":7.375,"y":0.125,"v":0.85},{"x":7.625,"y":0.125,"v":0.75},{"x":7.875,"y":0.125,"v":0.68},{"x":8.125,"y":0.125,"v":0.55},{"x":8.375,"y":0.125,"v":0.45},{"x":8.625,"y":0.125,"v":0.4},{"x":8.875,"y":0.125,"v":0.4},{"x":9.125,"y":0.125,"v":0.42},{"x":9.375,"y":0.125,"v":0.55},{"x":9.625,"y":0.125,"v":0.75},{"x":9.875,"y":0.125,"v":0.95}
],
"p2n":[
{"id":"e","o":1,"x":0.05,"y":3.55},{"id":"e","o":2,"x":0.15,"y":3.78},{"id":"e","o":3,"x":0.4,"y":3.86},{"id":"e","o":4,"x":0.7,"y":3.72},{"id":"e","o":5,"x":0.85,"y":3.5},{"id":"e","o":6,"x":0.65,"y":3.32},{"id":"e","o":7,"x":0.4,"y":3.26},{"id":"e","o":8,"x":0.15,"y":3.34},{"id":"e","o":9,"x":0.05,"y":3.55},
{"id":"l1","o":1,"x":0,"y":1.16},{"id":"l1","o":2,"x":0.4,"y":1.19},{"id":"l1","o":3,"x":0.88,"y":1.22},{"id":"l1","o":4,"x":1.49,"y":1.16},{"id":"l1","o":5,"x":1.97,"y":1.08},{"id":"l1","o":6,"x":2.34,"y":1},{"id":"l1","o":7,"x":2.95,"y":0.92},{"id":"l1","o":8,"x":3.31,"y":0.84},{"id":"l1","o":9,"x":3.7,"y":0.78},{"id":"l1","o":10,"x":4.2,"y":0.72},{"id":"l1","o":11,"x":4.65,"y":0.62},
{"id":"l2","o":1,"x":0.88,"y":0.77},{"id":"l2","o":2,"x":0.88,"y":1.29},{"id":"l2","o":3,"x":1,"y":1.62},{"id":"l2","o":4,"x":1.37,"y":1.75},{"id":"l2","o":5,"x":1.97,"y":1.78},{"id":"l2","o":6,"x":2.34,"y":1.7},{"id":"l2","o":7,"x":2.83,"y":1.54},{"id":"l2","o":8,"x":3.19,"y":1.4},{"id":"l2","o":9,"x":3.45,"y":1.18},{"id":"l2","o":10,"x":3.69,"y":0.94},{"id":"l2","o":11,"x":4.01,"y":0.82},{"id":"l2","o":12,"x":4.4,"y":0.72},
{"id":"l3","o":1,"x":0.88,"y":0.77},{"id":"l3","o":2,"x":0.64,"y":0.5},{"id":"l3","o":3,"x":0.35,"y":0.29},{"id":"l3","o":4,"x":0.06,"y":0.09},
{"id":"lp","o":1,"x":4.65,"y":0.62},{"id":"lp","o":2,"x":5.05,"y":0.66},{"id":"lp","o":3,"x":5.69,"y":0.7},{"id":"lp","o":4,"x":5.81,"y":0.46},{"id":"lp","o":5,"x":5.61,"y":0.26},{"id":"lp","o":6,"x":4.97,"y":0.14},{"id":"lp","o":7,"x":4.65,"y":0.1},
{"id":"a","o":1,"x":3.93,"y":3.54},{"id":"a","o":2,"x":4.33,"y":3.7},{"id":"a","o":3,"x":4.98,"y":3.74},{"id":"a","o":4,"x":5.6,"y":3.66},{"id":"a","o":5,"x":6,"y":3.38},{"id":"a","o":6,"x":6.09,"y":3.1},{"id":"a","o":7,"x":6.05,"y":2.78},{"id":"a","o":8,"x":5.73,"y":2.94},{"id":"a","o":9,"x":5.62,"y":2.7},{"id":"a","o":10,"x":5.65,"y":2.38},{"id":"a","o":11,"x":5.57,"y":2.14},{"id":"a","o":12,"x":5.37,"y":1.94},{"id":"a","o":13,"x":5.13,"y":1.78},{"id":"a","o":14,"x":5.05,"y":1.58},
{"id":"b","o":1,"x":3.93,"y":3.54},{"id":"b","o":2,"x":4.01,"y":3.42},{"id":"b","o":3,"x":4.41,"y":3.38},{"id":"b","o":4,"x":4.53,"y":3.18},{"id":"b","o":5,"x":4.45,"y":3.02},{"id":"b","o":6,"x":4.25,"y":2.78},{"id":"b","o":7,"x":4.13,"y":2.46},{"id":"b","o":8,"x":4.17,"y":2.06},{"id":"b","o":9,"x":4.33,"y":1.74},{"id":"b","o":10,"x":4.57,"y":1.62},{"id":"b","o":11,"x":5.05,"y":1.58},
{"id":"c","o":1,"x":4.53,"y":3.1},{"id":"c","o":2,"x":4.4,"y":2.7},{"id":"c","o":3,"x":4.33,"y":2.3},{"id":"c","o":4,"x":4.42,"y":1.98},{"id":"c","o":5,"x":4.65,"y":1.78},{"id":"c","o":6,"x":5,"y":1.72},
{"id":"d","o":1,"x":4.45,"y":2.55},{"id":"d","o":2,"x":4.75,"y":2.62},{"id":"d","o":3,"x":5.05,"y":2.5},{"id":"d","o":4,"x":5.15,"y":2.2},{"id":"d","o":5,"x":5.1,"y":2},{"id":"d","o":6,"x":4.9,"y":1.85},
{"id":"f","o":1,"x":3.97,"y":1.5},{"id":"f","o":2,"x":4.65,"y":1.44},{"id":"f","o":3,"x":5.13,"y":1.44},{"id":"f","o":4,"x":5.85,"y":1.58},{"id":"f","o":5,"x":5.96,"y":1.4},
{"id":"r","o":1,"x":4.33,"y":1.02},{"id":"r","o":2,"x":4.65,"y":1.14},{"id":"r","o":3,"x":5.13,"y":1.14},{"id":"r","o":4,"x":5.69,"y":1.1},{"id":"r","o":5,"x":5.85,"y":1.3},{"id":"r","o":6,"x":5.96,"y":1.38},{"id":"r","o":7,"x":6.2,"y":1.41},{"id":"r","o":8,"x":6.57,"y":1.54},{"id":"r","o":9,"x":7,"y":1.5},{"id":"r","o":10,"x":7.44,"y":1.48},{"id":"r","o":11,"x":7.77,"y":1.6},{"id":"r","o":12,"x":8.17,"y":1.82},{"id":"r","o":13,"x":8.73,"y":1.96},{"id":"r","o":14,"x":9.37,"y":1.9},{"id":"r","o":15,"x":9.7,"y":1.65},{"id":"r","o":16,"x":9.9,"y":1.42}
],
"p2edge":[{"x":-0.0905,"x2":10.095,"y":3.96,"y2":4.105,"v":0},{"x":-0.0905,"x2":10.095,"y":-0.086,"y2":0.004,"v":0},{"x":-0.0905,"x2":0.004,"y":-0.086,"y2":4.105,"v":0},{"x":9.905,"x2":10.095,"y":-0.086,"y2":4.105,"v":0}],
"bar1":[{"a":0,"b":1,"lo":0,"hi":2.77}],
"bar2":[{"a":0,"b":1,"lo":0,"hi":2.22}],
"t1":[{"t":"×","a":1.057,"y":2.885},{"t":"10","a":1.46,"y":2.885}],
"t1s":[{"t":"−4","a":2.1,"y":2.985}],
"t2":[{"t":"×","a":1.057,"y":2.31},{"t":"10","a":1.46,"y":2.31}],
"t2s":[{"t":"−5","a":2.1,"y":2.39}]
},
"columns":2,"align":"none","bounds":"flush","spacing":{"row":233,"column":79},
"resolve":{"scale":{"color":"independent"}},
"concat":[
{"width":2135,"height":876,
"encoding":{"x":{"field":"x","type":"quantitative","title":null,"scale":{"domain":[-0.1146,10.081],"nice":false,"zero":false},"axis":{"values":[0,2,4,6,8,10],"labelPadding":28,"labelAngle":0}},"y":{"field":"y","type":"quantitative","title":null,"scale":{"domain":[-0.081,4.1],"nice":false,"zero":false},"axis":{"values":[0,1,2,3,4],"labelPadding":13,"labelOffset":4}},
"color":{"field":"v","type":"quantitative","legend":null,"scale":{"domain":[0,0.194,0.277,0.443,0.554,0.776,0.97,1.163,1.302,1.468,1.662,1.773,1.939,2.078,2.161,2.271,2.355,2.493,2.632,2.77],"range":["#3e26a8","#4332c8","#4745e6","#4858ff","#4067ff","#2f84f8","#2298e6","#17add8","#04bac4","#2bc3a7","#45cb88","#5fd074","#8fcb4f","#bebe2e","#cfb926","#fdb440","#fec133","#fad32e","#f4e728","#f9fb15"],"interpolate":"rgb","clamp":true}}},
"layer":[
{"data":{"name":"p1bg"},"mark":{"type":"rect","cornerRadius":25},"encoding":{"x2":{"field":"x2"},"y2":{"field":"y2"}}},
{"data":{"name":"p1"},"mark":{"type":"square","size":1850,"filled":true,"opacity":1}},
{"data":{"name":"p1"},"mark":{"type":"circle","size":6080,"opacity":0.3,"clip":true}},
{"data":{"name":"p1"},"mark":{"type":"circle","size":3630,"opacity":0.35,"clip":true}},
{"data":{"name":"p1"},"mark":{"type":"circle","size":2120,"opacity":0.4,"clip":true}}
]},
{"width":114,"height":876,"layer":[
{"data":{"name":"bar1"},"mark":{"type":"rect","stroke":"#262626","strokeWidth":4.5,"fill":{"gradient":"linear","x1":0,"y1":1,"x2":0,"y2":0,"stops":[{"offset":0,"color":"#3e26a8"},{"offset":0.07,"color":"#4332c8"},{"offset":0.1,"color":"#4745e6"},{"offset":0.16,"color":"#4858ff"},{"offset":0.2,"color":"#4067ff"},{"offset":0.28,"color":"#2f84f8"},{"offset":0.35,"color":"#2298e6"},{"offset":0.42,"color":"#17add8"},{"offset":0.47,"color":"#04bac4"},{"offset":0.53,"color":"#2bc3a7"},{"offset":0.6,"color":"#45cb88"},{"offset":0.64,"color":"#5fd074"},{"offset":0.7,"color":"#8fcb4f"},{"offset":0.75,"color":"#bebe2e"},{"offset":0.78,"color":"#cfb926"},{"offset":0.82,"color":"#fdb440"},{"offset":0.85,"color":"#fec133"},{"offset":0.9,"color":"#fad32e"},{"offset":0.95,"color":"#f4e728"},{"offset":1,"color":"#f9fb15"}]}},
"encoding":{"x":{"field":"a","type":"quantitative","title":null,"axis":null,"scale":{"domain":[0,1],"nice":false,"zero":false}},"x2":{"field":"b"},"y":{"field":"lo","type":"quantitative","title":null,"scale":{"domain":[-0.056,2.835],"nice":false,"zero":false},"axis":{"orient":"right","values":[0,0.5,1,1.5,2,2.5],"format":"~g","ticks":true,"tickSize":-11,"tickWidth":4.5,"tickColor":"#262626","labelFontSize":65,"labelPadding":42,"labelAlign":"left","labelOffset":5}},"y2":{"field":"hi"}}},
{"data":{"name":"t1"},"mark":{"type":"text","align":"left","baseline":"alphabetic","font":"Liberation Sans","fontSize":65,"color":"#262626"},"encoding":{"x":{"field":"a","type":"quantitative"},"y":{"field":"y","type":"quantitative"},"text":{"field":"t"}}},
{"data":{"name":"t1s"},"mark":{"type":"text","align":"left","baseline":"alphabetic","font":"Liberation Sans","fontSize":50,"color":"#262626"},"encoding":{"x":{"field":"a","type":"quantitative"},"y":{"field":"y","type":"quantitative"},"text":{"field":"t"}}}
]},
{"width":2139,"height":880,
"encoding":{"x":{"field":"x","type":"quantitative","title":null,"scale":{"domain":[-0.0905,10.095],"nice":false,"zero":false},"axis":{"values":[0,2,4,6,8,10],"labelPadding":25,"labelAngle":0}},"y":{"field":"y","type":"quantitative","title":null,"scale":{"domain":[-0.086,4.105],"nice":false,"zero":false},"axis":{"values":[0,1,2,3,4],"labelPadding":13,"labelOffset":3}}},
"layer":[
{"data":{"name":"p2"},"mark":{"type":"square","size":2860,"filled":true,"opacity":1},"encoding":{"color":{"field":"v","type":"quantitative","legend":null,"scale":{"domain":[0,0.155,0.222,0.355,0.444,0.622,0.777,0.932,1.043,1.177,1.332,1.421,1.554,1.665,1.732,1.82,1.887,1.998,2.109,2.22],"range":["#3e26a8","#4332c8","#4745e6","#4858ff","#4067ff","#2f84f8","#2298e6","#17add8","#04bac4","#2bc3a7","#45cb88","#5fd074","#8fcb4f","#bebe2e","#cfb926","#fdb440","#fec133","#fad32e","#f4e728","#f9fb15"],"interpolate":"rgb","clamp":true}}}},
{"data":{"name":"p2"},"mark":{"type":"circle","size":9500,"opacity":0.3,"clip":true},"encoding":{"color":{"field":"v","type":"quantitative","legend":null}}},
{"data":{"name":"p2"},"mark":{"type":"circle","size":5675,"opacity":0.35,"clip":true},"encoding":{"color":{"field":"v","type":"quantitative","legend":null}}},
{"data":{"name":"p2"},"mark":{"type":"circle","size":3318,"opacity":0.4,"clip":true},"encoding":{"color":{"field":"v","type":"quantitative","legend":null}}},
{"data":{"name":"p2n"},"mark":{"type":"line","interpolate":"catmull-rom","stroke":"#3e26a8","strokeWidth":36,"strokeOpacity":0.3,"strokeCap":"round"},"encoding":{"detail":{"field":"id"},"order":{"field":"o","type":"quantitative"}}},
{"data":{"name":"p2n"},"transform":[{"filter":{"field":"id","oneOf":["a","b","c","d","f","r"]}}],"mark":{"type":"line","interpolate":"catmull-rom","stroke":"#3e26a8","strokeWidth":12,"strokeOpacity":0.55,"strokeCap":"round"},"encoding":{"detail":{"field":"id"},"order":{"field":"o","type":"quantitative"}}},
{"data":{"name":"p2edge"},"mark":{"type":"rect","cornerRadius":12,"color":"#3e26a8"},"encoding":{"x2":{"field":"x2"},"y2":{"field":"y2"}}}
]},
{"width":115,"height":880,"layer":[
{"data":{"name":"bar2"},"mark":{"type":"rect","stroke":"#262626","strokeWidth":4.5,"fill":{"gradient":"linear","x1":0,"y1":1,"x2":0,"y2":0,"stops":[{"offset":0,"color":"#3e26a8"},{"offset":0.07,"color":"#4332c8"},{"offset":0.1,"color":"#4745e6"},{"offset":0.16,"color":"#4858ff"},{"offset":0.2,"color":"#4067ff"},{"offset":0.28,"color":"#2f84f8"},{"offset":0.35,"color":"#2298e6"},{"offset":0.42,"color":"#17add8"},{"offset":0.47,"color":"#04bac4"},{"offset":0.53,"color":"#2bc3a7"},{"offset":0.6,"color":"#45cb88"},{"offset":0.64,"color":"#5fd074"},{"offset":0.7,"color":"#8fcb4f"},{"offset":0.75,"color":"#bebe2e"},{"offset":0.78,"color":"#cfb926"},{"offset":0.82,"color":"#fdb440"},{"offset":0.85,"color":"#fec133"},{"offset":0.9,"color":"#fad32e"},{"offset":0.95,"color":"#f4e728"},{"offset":1,"color":"#f9fb15"}]}},
"encoding":{"x":{"field":"a","type":"quantitative","title":null,"axis":null,"scale":{"domain":[0,1],"nice":false,"zero":false}},"x2":{"field":"b"},"y":{"field":"lo","type":"quantitative","title":null,"scale":{"domain":[-0.053,2.275],"nice":false,"zero":false},"axis":{"orient":"right","values":[0,0.5,1,1.5,2],"format":"~g","ticks":true,"tickSize":-11,"tickWidth":4.5,"tickColor":"#262626","labelFontSize":65,"labelPadding":42,"labelAlign":"left","labelOffset":5}},"y2":{"field":"hi"}}},
{"data":{"name":"t2"},"mark":{"type":"text","align":"left","baseline":"alphabetic","font":"Liberation Sans","fontSize":65,"color":"#262626"},"encoding":{"x":{"field":"a","type":"quantitative"},"y":{"field":"y","type":"quantitative"},"text":{"field":"t"}}},
{"data":{"name":"t2s"},"mark":{"type":"text","align":"left","baseline":"alphabetic","font":"Liberation Sans","fontSize":50,"color":"#262626"},"encoding":{"x":{"field":"a","type":"quantitative"},"y":{"field":"y","type":"quantitative"},"text":{"field":"t"}}}
]}
]}
